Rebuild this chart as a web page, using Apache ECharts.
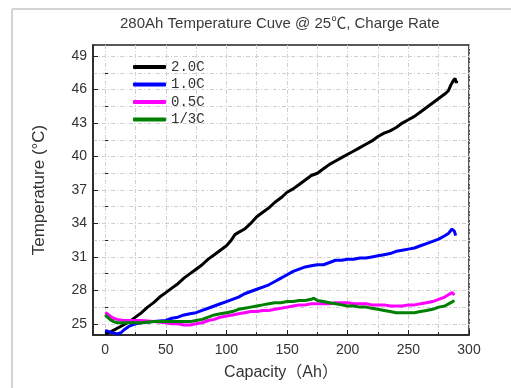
<!DOCTYPE html>
<html>
<head>
<meta charset="utf-8">
<script src="https://cdn.jsdelivr.net/npm/echarts@6/dist/echarts.min.js"></script>
<style>
  html, body { margin: 0; padding: 0; background: #fff; }
  #chart { width: 511px; height: 388px; }
</style>
</head>
<body>
<div id="chart"></div>
<script>
// temperature vs capacity, one array of [Ah, degC] per charge rate
const seriesNames = ['2.0C', '1.0C', '0.5C', '1/3C']
const seriesColors = ['#000000', '#0000ff', '#ff00ff', '#008000']

const rate20 = [
  [0, 24.1], [5, 24.3], [10, 24.6], [15, 24.9], [20, 25.2], [25, 25.6], [30, 26.0], [35, 26.5],
  [40, 26.9], [45, 27.4], [50, 27.8], [55, 28.2], [60, 28.6], [65, 29.1], [70, 29.5], [75, 29.9],
  [80, 30.3], [85, 30.8], [90, 31.2], [95, 31.6], [100, 32.0], [104, 32.5], [107, 33.0], [110, 33.2],
  [115, 33.5], [120, 34.0], [125, 34.6], [130, 35.0], [135, 35.4], [140, 35.9], [145, 36.3], [150, 36.8],
  [155, 37.1], [160, 37.5], [165, 37.9], [170, 38.3], [175, 38.5], [180, 38.9], [185, 39.3], [190, 39.6],
  [195, 39.9], [200, 40.2], [205, 40.5], [210, 40.8], [215, 41.1], [220, 41.4], [225, 41.8], [230, 42.1],
  [235, 42.3], [240, 42.6], [245, 43.0], [250, 43.3], [255, 43.6], [260, 44.0], [265, 44.4], [270, 44.8],
  [275, 45.2], [280, 45.6], [283, 45.9], [285, 46.4], [287, 46.8], [288.5, 47.0], [289.5, 46.6], [290, 46.8]
]
const rate10 = [
  [0, 24.4], [3, 24.3], [6, 24.2], [10, 24.1], [13, 24.2], [16, 24.5], [20, 24.8], [25, 25.0],
  [30, 25.1], [40, 25.2], [50, 25.3], [55, 25.5], [60, 25.6], [65, 25.8], [70, 25.9], [75, 26.0],
  [80, 26.2], [85, 26.4], [90, 26.6], [95, 26.8], [100, 27.0], [105, 27.2], [110, 27.4], [115, 27.7],
  [120, 27.9], [125, 28.1], [130, 28.3], [135, 28.5], [140, 28.8], [145, 29.1], [150, 29.4], [155, 29.7],
  [160, 29.9], [165, 30.1], [170, 30.2], [175, 30.3], [180, 30.3], [185, 30.5], [190, 30.7], [195, 30.7],
  [200, 30.8], [205, 30.8], [210, 30.9], [215, 30.9], [220, 31.0], [225, 31.1], [230, 31.2], [235, 31.3],
  [240, 31.5], [245, 31.6], [250, 31.7], [255, 31.8], [260, 32.0], [265, 32.2], [270, 32.4], [275, 32.6],
  [280, 32.9], [283, 33.1], [286, 33.5], [288, 33.3], [289, 32.9]
]
const rate05 = [
  [0, 26.0], [2, 25.9], [4, 25.7], [7, 25.5], [10, 25.4], [15, 25.3], [20, 25.3], [25, 25.3],
  [30, 25.3], [40, 25.2], [50, 25.1], [55, 25.0], [60, 25.0], [65, 24.9], [70, 24.9], [75, 25.0],
  [80, 25.1], [85, 25.3], [90, 25.4], [95, 25.6], [100, 25.7], [105, 25.8], [110, 25.9], [115, 26.0],
  [120, 26.1], [125, 26.1], [130, 26.2], [135, 26.2], [140, 26.3], [145, 26.4], [150, 26.5], [155, 26.6],
  [160, 26.7], [165, 26.7], [170, 26.8], [175, 26.8], [180, 26.8], [185, 26.8], [190, 26.9], [195, 26.9],
  [200, 26.9], [205, 26.8], [210, 26.8], [215, 26.8], [220, 26.7], [225, 26.7], [230, 26.7], [235, 26.6],
  [240, 26.6], [245, 26.6], [250, 26.7], [255, 26.7], [260, 26.8], [265, 26.9], [270, 27.0], [275, 27.2],
  [280, 27.4], [283, 27.6], [286, 27.8], [288, 27.6]
]
const rate033 = [
  [0, 25.8], [2, 25.6], [4, 25.4], [7, 25.2], [10, 25.1], [15, 25.1], [20, 25.1], [25, 25.1],
  [30, 25.1], [40, 25.2], [50, 25.2], [60, 25.2], [70, 25.2], [75, 25.3], [80, 25.4], [85, 25.6],
  [90, 25.8], [95, 25.9], [100, 26.0], [105, 26.1], [110, 26.3], [115, 26.4], [120, 26.5], [125, 26.6],
  [130, 26.7], [135, 26.8], [140, 26.9], [145, 26.9], [150, 27.0], [155, 27.0], [160, 27.1], [165, 27.1],
  [170, 27.2], [172, 27.3], [175, 27.1], [180, 27.0], [185, 26.9], [190, 26.8], [195, 26.7], [200, 26.6],
  [205, 26.6], [210, 26.5], [215, 26.5], [220, 26.4], [225, 26.3], [230, 26.2], [235, 26.1], [240, 26.0],
  [245, 26.0], [250, 26.0], [255, 26.0], [260, 26.1], [265, 26.2], [270, 26.3], [275, 26.5], [280, 26.6],
  [285, 26.9], [288, 27.1]
]

// axis ticks
const xMajorTicks = [0, 50, 100, 150, 200, 250, 300]
const xMinorTicks = [25, 75, 125, 175, 225, 275]
const yMajorTicks = [25, 28, 31, 34, 37, 40, 43, 46, 49]
const yMinorTicks = [26.5, 29.5, 32.5, 35.5, 38.5, 41.5, 44.5, 47.5]

const fontSans = '"Liberation Sans", Arial, "Noto Sans CJK SC", sans-serif'
const gridLine = { show: true, lineStyle: { color: '#cfcfcf', width: 1, type: [4, 2, 1, 2] } }

const chart = echarts.init(document.getElementById('chart'))

const allData = [rate20, rate10, rate05, rate033]

chart.setOption({
  animation: false,
  backgroundColor: '#fff',
  title: {
    text: '280Ah Temperature Cuve @ 25℃, Charge Rate',
    left: 120,
    top: 16,
    padding: 0,
    textStyle: { fontFamily: fontSans, fontSize: 15, fontWeight: 'normal', color: '#3a3a3a' }
  },
  legend: {
    orient: 'vertical',
    left: 133,
    top: 60,
    padding: 0,
    itemWidth: 33,
    itemHeight: 4,
    itemGap: 3.5,
    icon: 'roundRect',
    textStyle: { fontFamily: '"Liberation Mono", monospace', fontSize: 14, lineHeight: 14, color: '#333' },
    data: seriesNames
  },
  grid: {
    left: 93,
    right: 42,
    top: 45,
    bottom: 53,
    containLabel: false,
    outerBoundsMode: 'none',
    show: true,
    borderColor: '#222',
    borderWidth: 1.5
  },
  graphic: [
    { type: 'line', shape: { x1: 12, y1: 9, x2: 12, y2: 388 }, style: { stroke: '#d4d4d4', lineWidth: 2 } },
    { type: 'line', shape: { x1: 12, y1: 9, x2: 511, y2: 9 }, style: { stroke: '#d4d4d4', lineWidth: 2 } }
  ],
  xAxis: [{
    type: 'value',
    min: -10,
    max: 300,
    name: 'Capacity（Ah）',
    nameLocation: 'middle',
    nameGap: 30,
    nameTextStyle: { fontFamily: fontSans, fontSize: 16, color: '#333' },
    axisLine: { show: true, onZero: false, lineStyle: { color: '#222', width: 1.5 } },
    axisTick: { show: true, inside: true, length: 5, customValues: xMajorTicks, lineStyle: { color: '#222' } },
    axisLabel: { customValues: xMajorTicks, margin: 8, fontFamily: fontSans, fontSize: 14, color: '#333' },
    splitLine: gridLine
  }, {
    type: 'value',
    min: -10,
    max: 300,
    position: 'bottom',
    axisLine: { show: false },
    axisTick: { show: true, inside: true, length: 3, customValues: xMinorTicks, lineStyle: { color: '#222' } },
    axisLabel: { show: false },
    splitLine: gridLine
  }],
  yAxis: [{
    type: 'value',
    min: 24,
    max: 50,
    name: 'Temperature (°C)',
    nameLocation: 'middle',
    nameGap: 45,
    nameTextStyle: { fontFamily: fontSans, fontSize: 17, color: '#333' },
    axisLine: { show: true, onZero: false, lineStyle: { color: '#222', width: 1.5 } },
    axisTick: { show: true, inside: true, length: 5, customValues: yMajorTicks, lineStyle: { color: '#222' } },
    axisLabel: { customValues: yMajorTicks, margin: 6, fontFamily: fontSans, fontSize: 14, color: '#333' },
    splitLine: gridLine
  }, {
    type: 'value',
    min: 24,
    max: 50,
    position: 'left',
    axisLine: { show: false },
    axisTick: { show: true, inside: true, length: 3, customValues: yMinorTicks, lineStyle: { color: '#222' } },
    axisLabel: { show: false },
    splitLine: gridLine
  }],
  series: seriesNames.map((name, i) => ({
    name: name,
    type: 'line',
    data: allData[i],
    showSymbol: false,
    symbol: 'none',
    color: seriesColors[i],
    lineStyle: { width: 3, color: seriesColors[i] }
  }))
})
</script>
</body>
</html>
